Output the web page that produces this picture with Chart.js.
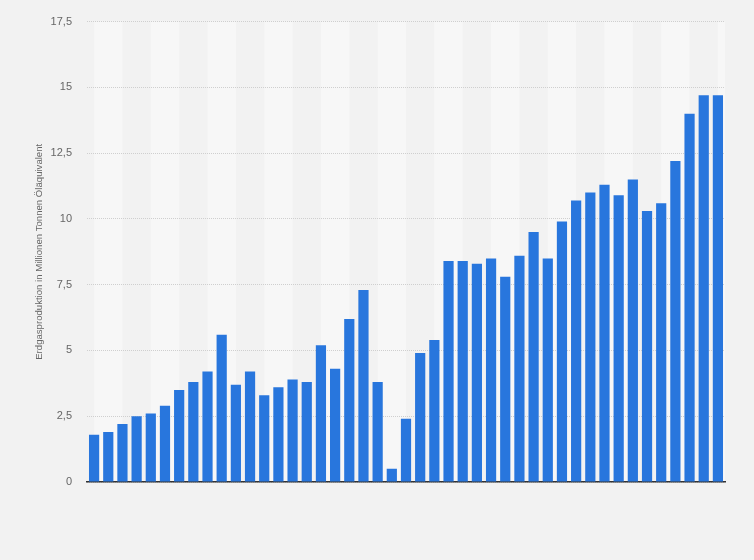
<!DOCTYPE html>
<html>
<head>
<meta charset="utf-8">
<script src="https://cdn.jsdelivr.net/npm/chart.js@4/dist/chart.umd.min.js"></script>
<style>
  html, body { margin: 0; padding: 0; background: #f2f2f2; }
  #wrap { width: 754px; height: 560px; position: relative; }
</style>
</head>
<body>
<div id="wrap"><canvas id="c" width="754" height="560"></canvas></div>
<script>
const categories = ["1970","1971","1972","1973","1974","1975","1976","1977","1978","1979",
  "1980","1981","1982","1983","1984","1985","1986","1987","1988","1989",
  "1990","1991","1992","1993","1994","1995","1996","1997","1998","1999",
  "2000","2001","2002","2003","2004","2005","2006","2007","2008","2009",
  "2010","2011","2012","2013","2014"];
const production = [1.8, 1.9, 2.2, 2.5, 2.6, 2.9, 3.5, 3.8, 4.2, 5.6,
  3.7, 4.2, 3.3, 3.6, 3.9, 3.8, 5.2, 4.3, 6.2, 7.3,
  3.8, 0.5, 2.4, 4.9, 5.4, 8.4, 8.4, 8.3, 8.5, 7.8,
  8.6, 9.5, 8.5, 9.9, 10.7, 11.0, 11.3, 10.9, 11.5, 10.3,
  10.6, 12.2, 14.0, 14.7, 14.7];
const yTicks = [0, 2.5, 5, 7.5, 10, 12.5, 15, 17.5];
const yTitle = "Erdgasproduktion in Millionen Tonnen Öläquivalent";

const bands = {
  id: 'bands',
  beforeDraw(chart) {
    const ctx = chart.ctx, a = chart.chartArea, x = chart.scales.x;
    ctx.save();
    ctx.fillStyle = '#f2f2f2';
    ctx.fillRect(0, 0, chart.width, chart.height);
    ctx.fillStyle = '#f7f7f7';
    for (let i = 0; i < categories.length; i += 4) {
      const x0 = x.getPixelForValue(i);
      const x1 = i + 2 < categories.length ? x.getPixelForValue(i + 2) : a.right;
      ctx.fillRect(x0, a.top, Math.min(x1, a.right) - x0, a.bottom - a.top);
    }
    ctx.restore();
  }
};

new Chart(document.getElementById('c'), {
  type: 'bar',
  data: {
    labels: categories,
    datasets: [{
      data: production,
      backgroundColor: '#2876dd',
      borderWidth: 0,
      barPercentage: 0.72,
      categoryPercentage: 1.0
    }]
  },
  options: {
    responsive: false,
    animation: false,
    events: [],
    layout: { padding: { left: 0, right: 29, top: 20, bottom: 78 } },
    plugins: { legend: { display: false }, tooltip: { enabled: false } },
    scales: {
      x: {
        display: true,
        grid: { display: false, drawTicks: false },
        border: { display: true, color: '#333333', width: 1.5 },
        ticks: { display: false }
      },
      y: {
        min: 0, max: 17.5,
        afterFit(s) { s.width = 87; },
        afterBuildTicks(s) { s.ticks = yTicks.map(v => ({ value: v })); },
        border: { display: false, dash: [1, 1] },
        grid: { color: '#cfcfcf', lineWidth: 1, drawTicks: false },
        ticks: {
          padding: 15,
          color: '#666666',
          font: { family: 'Liberation Sans, Arial, sans-serif', size: 11 },
          callback: v => String(v).replace('.', ',')
        },
        title: {
          display: true,
          text: yTitle,
          color: '#666666',
          font: { family: 'Liberation Sans, Arial, sans-serif', size: 9.6 },
          padding: { top: 34, bottom: 0 }
        }
      }
    }
  },
  plugins: [bands]
});
</script>
</body>
</html>
